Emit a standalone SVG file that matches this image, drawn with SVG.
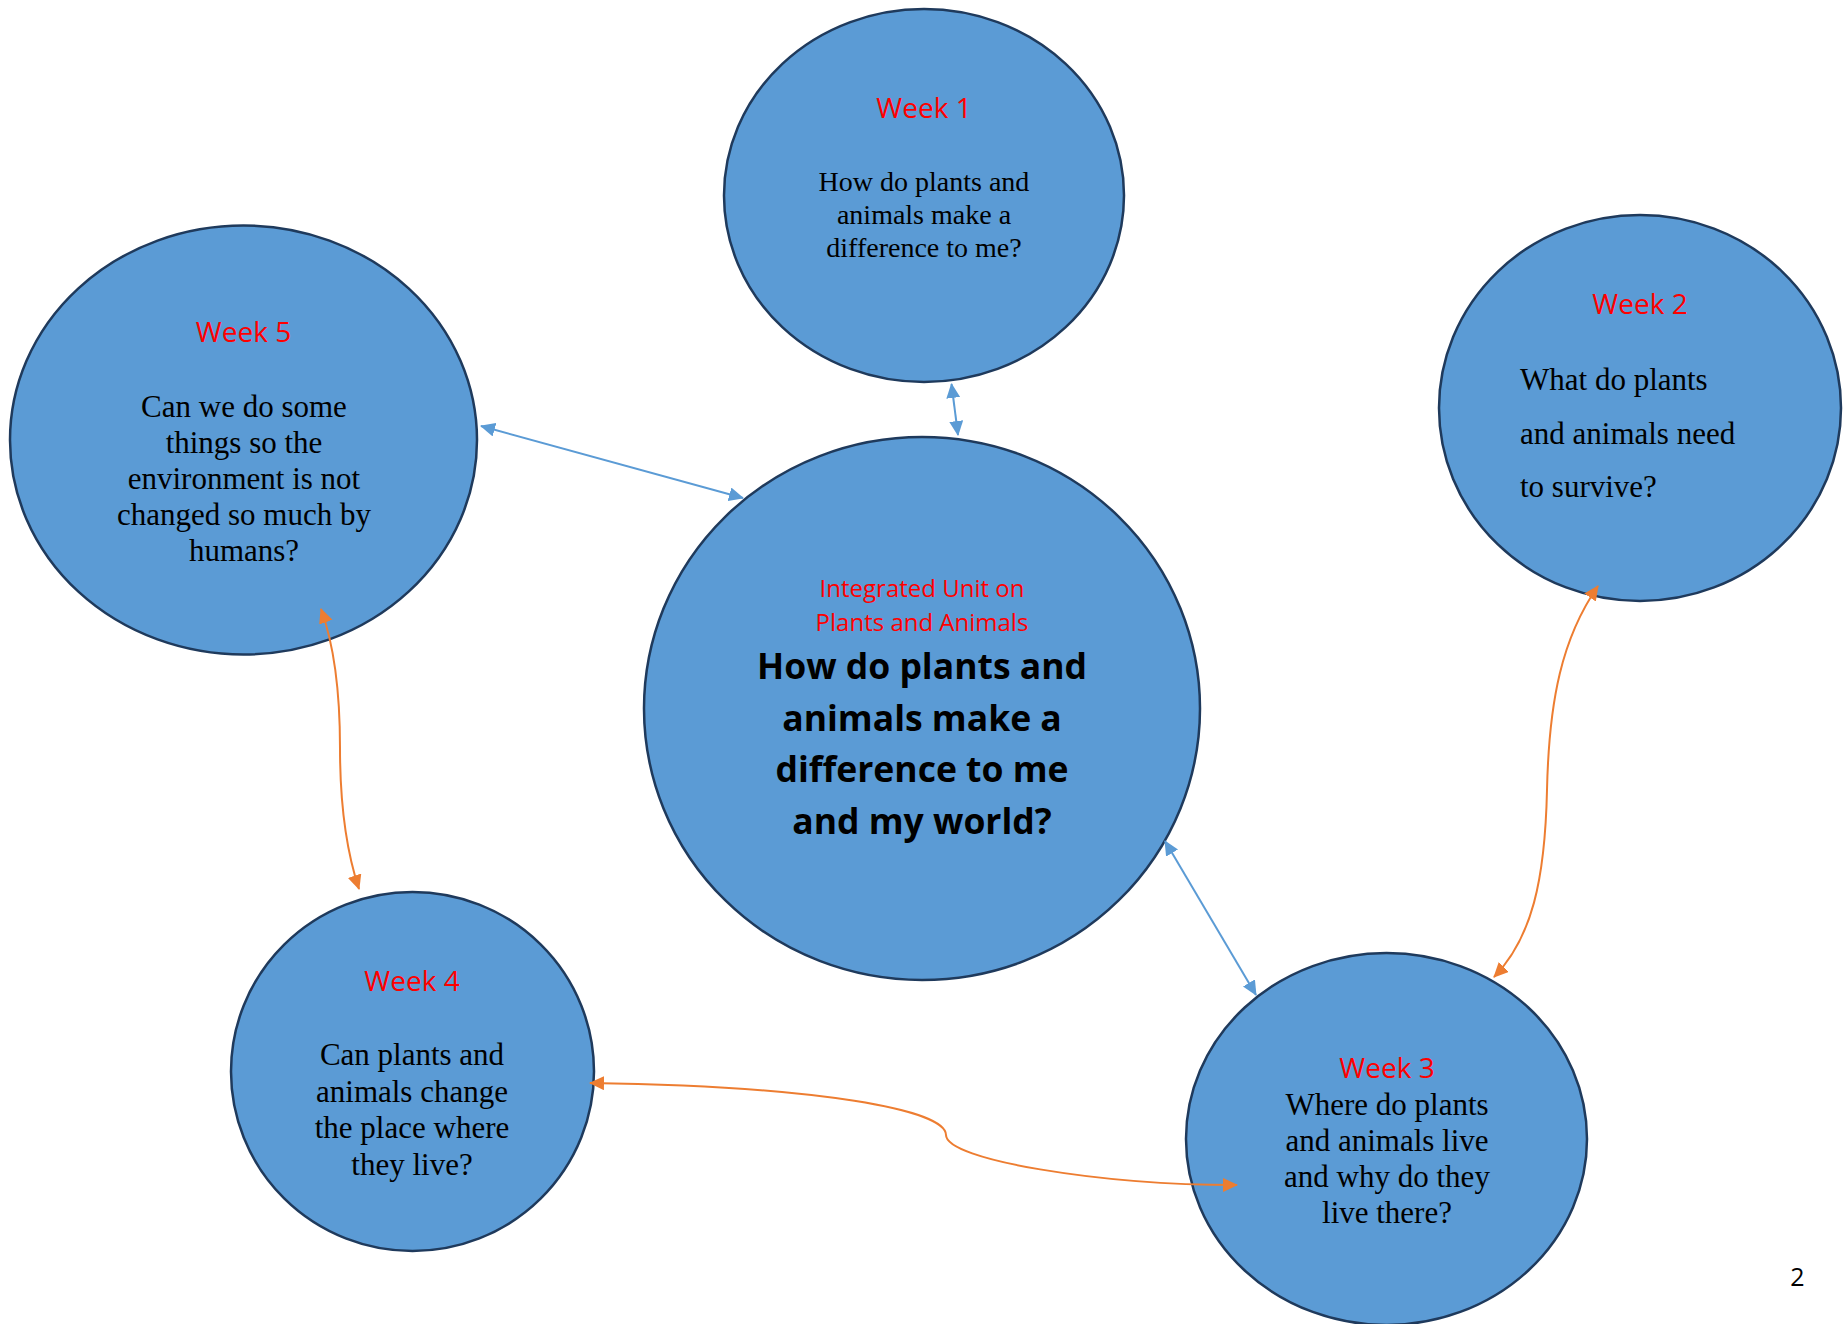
<svg xmlns="http://www.w3.org/2000/svg" width="1847" height="1324" viewBox="0 0 1847 1324">
  <style>
    .bubble { fill: #5B9BD5; stroke: #1F3A5C; stroke-width: 2.5; }
    .week { font-family: "Open Sans", "Liberation Sans", sans-serif; font-size: 28px; fill: #FF0000; text-anchor: middle; }
    .q { font-family: "Liberation Serif", "DejaVu Serif", serif; font-size: 31px; fill: #000; text-anchor: middle; }
    .q-left { font-family: "Liberation Serif", "DejaVu Serif", serif; font-size: 31px; fill: #000; text-anchor: start; }
    .q-small { font-size: 28px; }
    .unit { font-family: "Open Sans", "Liberation Sans", sans-serif; font-size: 24px; fill: #FF0000; text-anchor: middle; }
    .big { font-family: "Open Sans", "Liberation Sans", sans-serif; font-size: 35.5px; font-weight: bold; fill: #000; text-anchor: middle; }
    .blue { fill: none; stroke: #5B9BD5; stroke-width: 2; }
    .orange { fill: none; stroke: #ED7D31; stroke-width: 2; }
  </style>
  <defs>
    <marker id="head-blue" markerUnits="userSpaceOnUse" viewBox="0 0 15 14" markerWidth="15" markerHeight="14" refX="14" refY="7" orient="auto-start-reverse">
      <path d="M0,0 L15,7 L0,14 z" fill="#5B9BD5"/>
    </marker>
    <marker id="head-orange" markerUnits="userSpaceOnUse" viewBox="0 0 15 14" markerWidth="15" markerHeight="14" refX="14" refY="7" orient="auto-start-reverse">
      <path d="M0,0 L15,7 L0,14 z" fill="#ED7D31"/>
    </marker>
  </defs>

  <rect width="1847" height="1324" fill="#FFFFFF"/>

  <!-- central question -->
  <g id="center">
    <ellipse class="bubble" cx="922" cy="708.5" rx="278" ry="271.5"/>
    <text class="unit" x="922" y="597">Integrated Unit on</text>
    <text class="unit" x="922" y="631">Plants and Animals</text>
    <text class="big" x="922" y="679">How do plants and</text>
    <text class="big" x="922" y="730.5">animals make a</text>
    <text class="big" x="922" y="782">difference to me</text>
    <text class="big" x="922" y="833.5">and my world?</text>
  </g>

  <g id="week1">
    <ellipse class="bubble" cx="924" cy="195.5" rx="200" ry="186.5"/>
    <text class="week" x="924" y="118">Week 1</text>
    <text class="q q-small" x="924" y="191">How do plants and</text>
    <text class="q q-small" x="924" y="224">animals make a</text>
    <text class="q q-small" x="924" y="257">difference to me?</text>
  </g>

  <g id="week2">
    <ellipse class="bubble" cx="1640" cy="408" rx="201" ry="193"/>
    <text class="week" x="1640" y="314">Week 2</text>
    <text class="q-left" x="1520" y="390">What do plants</text>
    <text class="q-left" x="1520" y="443.5">and animals need</text>
    <text class="q-left" x="1520" y="497">to survive?</text>
  </g>

  <g id="week3">
    <ellipse class="bubble" cx="1386.5" cy="1139" rx="200.5" ry="186"/>
    <text class="week" x="1387" y="1078">Week 3</text>
    <text class="q" x="1387" y="1115">Where do plants</text>
    <text class="q" x="1387" y="1151">and animals live</text>
    <text class="q" x="1387" y="1187">and why do they</text>
    <text class="q" x="1387" y="1223">live there?</text>
  </g>

  <g id="week4">
    <ellipse class="bubble" cx="412.5" cy="1071.5" rx="181.5" ry="179.5"/>
    <text class="week" x="412" y="991">Week 4</text>
    <text class="q" x="412" y="1065">Can plants and</text>
    <text class="q" x="412" y="1101.5">animals change</text>
    <text class="q" x="412" y="1138">the place where</text>
    <text class="q" x="412" y="1174.5">they live?</text>
  </g>

  <g id="week5">
    <ellipse class="bubble" cx="243.5" cy="440" rx="233.5" ry="214.5"/>
    <text class="week" x="243.5" y="342">Week 5</text>
    <text class="q" x="244" y="417">Can we do some</text>
    <text class="q" x="244" y="453">things so the</text>
    <text class="q" x="244" y="489">environment is not</text>
    <text class="q" x="244" y="525">changed so much by</text>
    <text class="q" x="244" y="561">humans?</text>
  </g>

  <!-- two-way links -->
  <g id="connectors">
    <path class="blue" d="M951.5,384 L958,435" marker-start="url(#head-blue)" marker-end="url(#head-blue)"/>
    <path class="blue" d="M481,426 L743,498" marker-start="url(#head-blue)" marker-end="url(#head-blue)"/>
    <path class="blue" d="M1165,841 L1256,995" marker-start="url(#head-blue)" marker-end="url(#head-blue)"/>
    <path class="orange" d="M1598,586 C1562,638 1549,700 1547,790 C1545,880 1532,938 1494,977" marker-start="url(#head-orange)" marker-end="url(#head-orange)"/>
    <path class="orange" d="M590,1083 C820,1086 946,1110 946,1135 C946,1160 1100,1185 1237,1185" marker-start="url(#head-orange)" marker-end="url(#head-orange)"/>
    <path class="orange" d="M321,609 C336,650 340,700 340,748 C340,800 346,850 359,889" marker-start="url(#head-orange)" marker-end="url(#head-orange)"/>
  </g>

  <text x="1797.5" y="1286" font-family="'Open Sans', 'Liberation Sans', sans-serif" font-size="25" fill="#000" text-anchor="middle">2</text>
</svg>
